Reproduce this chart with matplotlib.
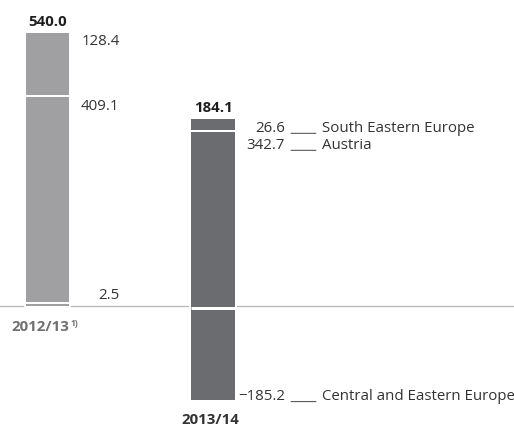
import matplotlib
matplotlib.use('Agg')
import matplotlib.pyplot as plt
from matplotlib.transforms import offset_copy
import numpy as np

# segment values, bottom to top (Central and Eastern Europe, Austria, South Eastern Europe)
regions = ['Central and Eastern Europe', 'Austria', 'South Eastern Europe']
years = ['2012/13', '2013/14']
values_1213 = [2.5, 409.1, 128.4]
values_1314 = [-185.2, 342.7, 26.6]
totals = [540.0, 184.1]

bar_colors = ['#a0a0a3', '#6b6c70']
text_col = '#333333'

plt.rcParams['font.family'] = ['Open Sans', 'DejaVu Sans']
FS = 15

# dpi 72 so one point is one pixel
fig = plt.figure(figsize=(514 / 72, 427 / 72), dpi=72)
ax = fig.add_axes([0, 0, 1, 1])
ax.set_xlim(-0.287, 2.819)
ax.set_ylim(-239.3, 605.2)
ax.axis('off')

ax.axhline(0, color='#b5b5b5', lw=1.2, zorder=1)

width = 0.265
x = np.arange(len(years))
tr = ax.transData

for i, vals in enumerate([values_1213, values_1314]):
    pos_bottom = 0.0
    neg_bottom = 0.0
    segs = []
    for v in vals:
        if v >= 0:
            segs.append((pos_bottom, v))
            pos_bottom += v
        else:
            segs.append((neg_bottom, v))
            neg_bottom += v

    # white halo cuts the zero line, then the coloured segments
    for b, v in segs:
        ax.bar(x[i], v, width, bottom=b, color='white', edgecolor='white',
               lw=3.5, zorder=2)
    for b, v in segs:
        ax.bar(x[i], v, width, bottom=b, color=bar_colors[i], lw=0, zorder=3)

    # white gaps between segments
    up = offset_copy(tr, fig=fig, x=0, y=1.5, units='points')
    down = offset_copy(tr, fig=fig, x=0, y=-1.5, units='points')
    for b, v in segs:
        if v >= 0 and b > 0:
            ax.plot([x[i] - width / 2, x[i] + width / 2], [b, b], color='white',
                    lw=2, zorder=4, solid_capstyle='butt', transform=up)
        if v < 0:
            ax.plot([x[i] - width / 2, x[i] + width / 2], [0, 0], color='white',
                    lw=3, zorder=4, solid_capstyle='butt', transform=down)

    # total on top
    ax.annotate('%.1f' % totals[i], (x[i], pos_bottom), xytext=(0, 11),
                textcoords='offset points', ha='center', va='center',
                fontsize=FS, fontweight='bold', color='#1e1e1e')

    # label positions in pixels, keeping labels apart
    xc = tr.transform((x[i], 0))[0]
    label_y = {}
    prev = None
    for k in sorted(range(len(segs)), key=lambda k: -(segs[k][0] + segs[k][1])):
        b, v = segs[k]
        top = tr.transform((x[i], b + v))[1]
        if v < 0:
            yp = top + 3
        elif tr.transform((0, v))[1] - tr.transform((0, 0))[1] < 5:
            yp = top + 9
        else:
            yp = top - 9
            if prev is not None and yp > prev - 17:
                yp = prev - 17
            prev = yp
        label_y[k] = yp

    for k, (b, v) in enumerate(segs):
        lab = ('%.1f' % v).replace('-', '\u2212')
        yp = label_y[k]
        ax.annotate(lab, (xc + 72, yp), xycoords='figure pixels', ha='right',
                    va='center', fontsize=FS, color=text_col)
        if i == 1:
            ax.annotate(regions[k], (xc + 109, yp), xycoords='figure pixels',
                        ha='left', va='center', fontsize=FS, color=text_col)
            ax.annotate('', xy=(xc + 103, yp - 5), xycoords='figure pixels',
                        xytext=(xc + 78, yp - 5), textcoords='figure pixels',
                        arrowprops=dict(arrowstyle='-', color=text_col, lw=0.9,
                                        shrinkA=0, shrinkB=0))

    # category labels
    if i == 0:
        ax.annotate(years[i], (x[i], neg_bottom), xytext=(22, -21),
                    textcoords='offset points', ha='right', va='center',
                    fontsize=FS, fontweight='bold', color='#707070')
        ax.annotate('1)', (x[i], neg_bottom), xytext=(23, -17),
                    textcoords='offset points', ha='left', va='center',
                    fontsize=8.5, fontweight='bold', color='#707070')
    else:
        ax.annotate(years[i], (x[i], neg_bottom), xytext=(-3, -20),
                    textcoords='offset points', ha='center', va='center',
                    fontsize=FS, fontweight='bold', color='#333333')

fig.savefig('out.png', dpi=72)
